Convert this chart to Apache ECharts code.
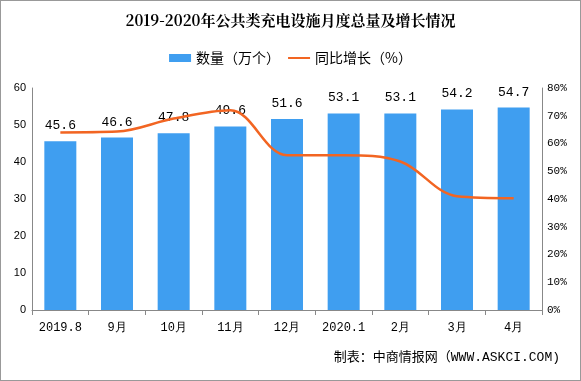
<!DOCTYPE html>
<html><head><meta charset="utf-8">
<script src="https://cdn.jsdelivr.net/npm/echarts@6/dist/echarts.min.js"></script>
<style>html,body{margin:0;padding:0;background:#fff}#c{width:581px;height:381px;box-sizing:border-box;border:1px solid #999}</style>
</head><body><div id="c"></div>
<script>
const categories = ['2019.8','9月','10月','11月','12月','2020.1','2月','3月','4月'];
const counts = [45.6,46.6,47.8,49.6,51.6,53.1,53.1,54.2,54.7];
const growth = [64,64.3,69,72,55.8,55.8,53.5,41,40.3];
const leftTicks = {min:0,max:60,interval:10};
const rightTicks = {min:0,max:80,interval:10};
const chart = echarts.init(document.getElementById('c'));
const font = '"Liberation Mono","DejaVu Sans Mono",monospace';
const cjk = '"Noto Sans CJK SC","DejaVu Sans",sans-serif';
chart.setOption({
  animation:false,
  title:{text:'2019-2020年公共类充电设施月度总量及增长情况',left:'center',top:7,
    textStyle:{fontFamily:'"Noto Serif CJK SC","Noto Sans CJK SC",serif',fontWeight:'bold',fontSize:15,color:'#000'}},
  legend:{top:45,left:'center',itemGap:8,itemWidth:22,itemHeight:8,
    textStyle:{fontFamily:cjk,fontSize:14,color:'#000'},
    data:[{name:'数量（万个）',icon:'rect'},{name:'同比增长（%）',icon:'path://M0,4L22,4L22,6L0,6Z'}]},
  grid:{left:31,right:38,top:87,bottom:70,containLabel:false},
  xAxis:{type:'category',data:categories,boundaryGap:true,
    axisLine:{lineStyle:{color:'#888'}},
    axisTick:{show:true,alignWithLabel:false,lineStyle:{color:'#888'},length:5},
    axisLabel:{color:'#000',fontFamily:font,fontSize:12,margin:12}},
  yAxis:[
    {type:'value',min:leftTicks.min,max:leftTicks.max,interval:leftTicks.interval,
     axisLine:{show:true,lineStyle:{color:'#888'}},axisTick:{show:false},splitLine:{show:false},
     axisLabel:{color:'#000',fontFamily:'"Liberation Sans",sans-serif',fontSize:11,margin:6}},
    {type:'value',min:rightTicks.min,max:rightTicks.max,interval:rightTicks.interval,
     axisLine:{show:true,lineStyle:{color:'#888'}},axisTick:{show:false},splitLine:{show:false},
     axisLabel:{color:'#000',fontFamily:font,fontSize:11,margin:5,formatter:'{value}%'}}
  ],
  series:[
    {name:'数量（万个）',type:'bar',data:counts,barWidth:32,itemStyle:{color:'#3f9ef0'},
     label:{show:true,position:'top',distance:9,color:'#000',fontFamily:font,fontSize:13}},
    {name:'同比增长（%）',type:'line',yAxisIndex:1,data:growth,smooth:0.35,symbol:'none',
     lineStyle:{color:'#f26522',width:2.5},itemStyle:{color:'#f26522'}}
  ],
  graphic:[{type:'text',right:20,top:350,style:{text:'制表：中商情报网（WWW.ASKCI.COM)',font:'13px '+font+','+cjk,fill:'#000'}}]
});
</script></body></html>
